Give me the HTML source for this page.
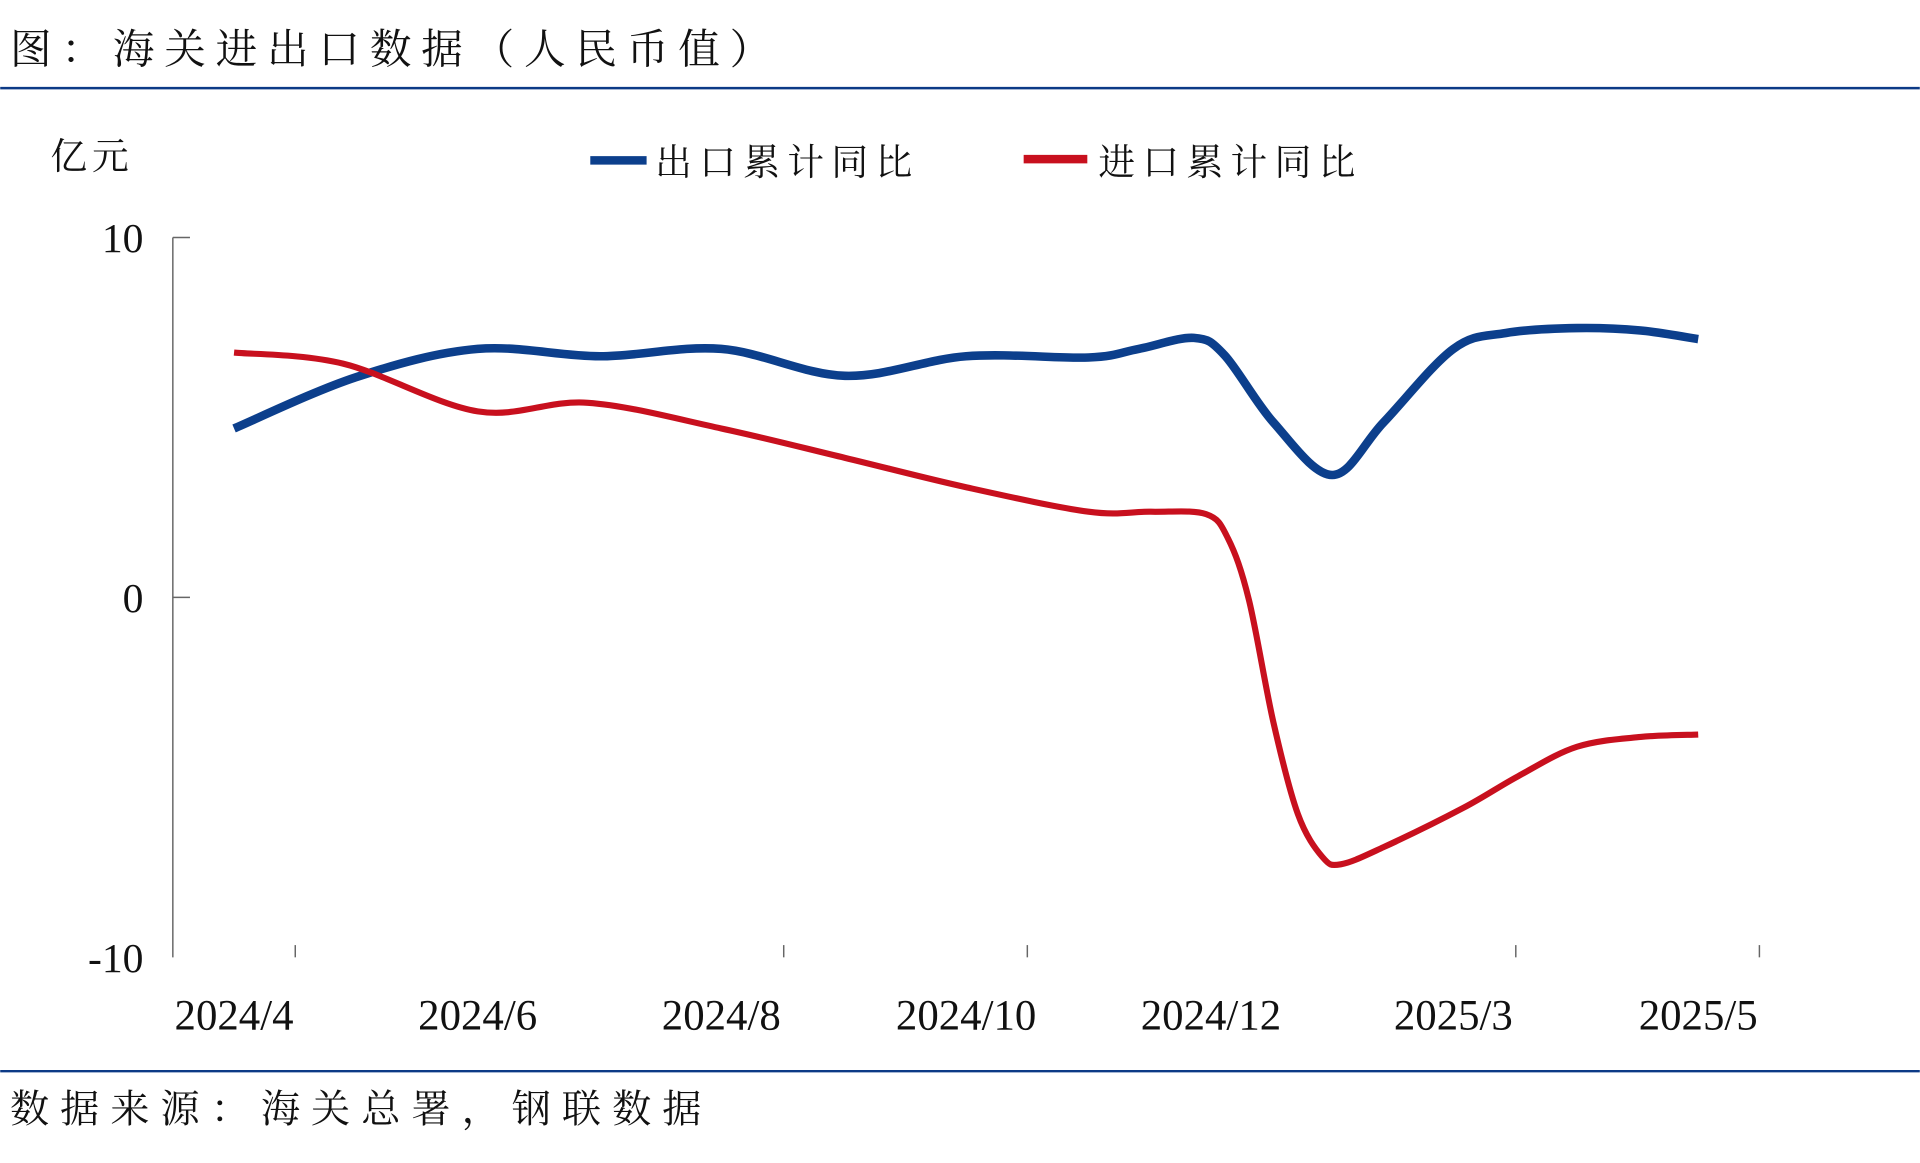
<!DOCTYPE html>
<html><head><meta charset="utf-8"><style>
html,body{margin:0;padding:0;background:#fff;}
svg{display:block;}
text{font-family:"Liberation Serif","Noto Serif CJK SC",serif;fill:#111;}
.cjk{font-family:"Noto Serif CJK SC","Liberation Serif",serif;}
</style></head><body>
<svg id="s" width="1920" height="1163" viewBox="0 0 1568 950" xmlns="http://www.w3.org/2000/svg">
<rect width="1568" height="950" fill="#fff"/>
<text class="cjk" x="8" y="52" font-size="34" letter-spacing="8">图：海关进出口数据（人民币值）</text>
<line x1="0" y1="72" x2="1568" y2="72" stroke="#0c3a86" stroke-width="2"/>
<text class="cjk" x="41" y="138" font-size="30" letter-spacing="4">亿元</text>
<line x1="482" y1="131" x2="528" y2="131" stroke="#0c3f8c" stroke-width="7"/>
<text class="cjk" x="535" y="143" font-size="30" letter-spacing="6">出口累计同比</text>
<line x1="836" y1="130" x2="888" y2="130" stroke="#c8101e" stroke-width="7"/>
<text class="cjk" x="897" y="143" font-size="30" letter-spacing="6">进口累计同比</text>
<g stroke="#666" stroke-width="1.2">
<line x1="141" y1="194" x2="141" y2="782"/>
<line x1="141" y1="194" x2="155" y2="194"/>
<line x1="141" y1="488" x2="155" y2="488"/>
<line x1="241" y1="772" x2="241" y2="782"/>
<line x1="640" y1="772" x2="640" y2="782"/>
<line x1="839" y1="772" x2="839" y2="782"/>
<line x1="1238" y1="772" x2="1238" y2="782"/>
<line x1="1437" y1="772" x2="1437" y2="782"/>
</g>
<g font-size="34" text-anchor="end">
<text x="117" y="206">10</text>
<text x="117" y="500">0</text>
<text x="117" y="794">-10</text>
</g>
<g font-size="35" text-anchor="middle">
<text x="191" y="841">2024/4</text>
<text x="390" y="841">2024/6</text>
<text x="589" y="841">2024/8</text>
<text x="789" y="841">2024/10</text>
<text x="989" y="841">2024/12</text>
<text x="1187" y="841">2025/3</text>
<text x="1387" y="841">2025/5</text>
</g>
<path id="blue" fill="none" stroke="#0c3f8c" stroke-width="7" stroke-linejoin="round"/>
<path id="red" fill="none" stroke="#c8101e" stroke-width="5" stroke-linejoin="round"/>
<line x1="0" y1="875" x2="1568" y2="875" stroke="#0c3a86" stroke-width="2"/>
<text class="cjk" x="8" y="917" font-size="32" letter-spacing="9">数据来源：海关总署，钢联数据</text>
</svg>
<script>
function cr(p){var d="M"+p[0][0]+","+p[0][1];for(var i=0;i<p.length-1;i++){var a=p[i-1]||p[i],b=p[i],c=p[i+1],e=p[i+2]||c;
var t=0.5/3;
d+=" C"+(b[0]+(c[0]-a[0])*t)+","+(b[1]+(c[1]-a[1])*t)+" "+(c[0]-(e[0]-b[0])*t)+","+(c[1]-(e[1]-b[1])*t)+" "+c[0]+","+c[1];}return d;}
document.getElementById("blue").setAttribute("d",cr([[191,350],[291,308],[390,285],[490,291],[589,285],[690,307],[789,291],[889,292],[930,285],[975,276],[1000,290],[1040,345],[1088,388],[1130,345],[1187,285],[1230,272],[1288,268],[1340,270],[1387,277]]));
document.getElementById("red").setAttribute("d",cr([[191,288],[280,297],[390,336],[480,329],[589,350],[690,374],[789,398],[889,418],[940,418],[985,420],[1003,440],[1020,490],[1040,590],[1060,665],[1080,700],[1095,706],[1130,692],[1195,660],[1240,634],[1288,610],[1340,602],[1387,600]]));
</script>
</body></html>
